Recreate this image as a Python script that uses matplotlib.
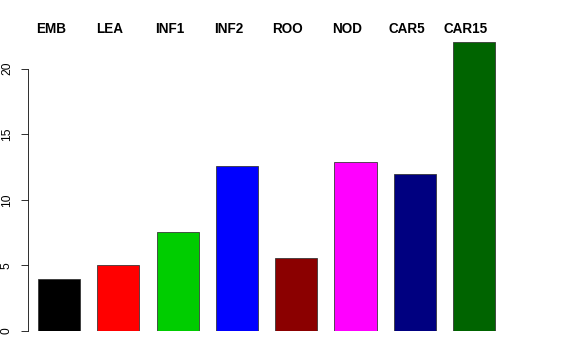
import matplotlib
matplotlib.use("Agg")
import matplotlib.pyplot as plt

groups = ["EMB", "LEA", "INF1", "INF2", "ROO", "NOD", "CAR5", "CAR15"]
values = [4.0, 5.0, 7.55, 12.6, 5.6, 12.9, 11.95, 22.0]
colors = ["black", "red", "#00CD00", "blue", "#8B0000", "magenta", "#000080", "#006400"]
yticks = [0, 5, 10, 15, 20]

plt.rcParams['font.family'] = ['Liberation Sans', 'DejaVu Sans']

fig = plt.figure(figsize=(8, 5), dpi=72)
ax = fig.add_axes([28/576, (360-331)/360, (548-28)/576, 288.6/360])

x = list(range(len(groups)))
ax.bar(x, values, width=0.71, color=colors, edgecolor="#333333", linewidth=0.8)

ax.set_xlim(-0.523, 8.246)
ax.set_ylim(0, 22)

# names sit a little left of the bar centres
for xi, name in zip(x, groups):
    ax.text(xi - 0.14, 23.0, name, ha="center", va="center", fontsize=13.5,
            fontweight="bold", clip_on=False)

ax.set_xticks([])
ax.set_yticks(yticks)
ax.set_yticklabels([str(t) for t in yticks], rotation=90, va="center", fontsize=12)
ax.tick_params(axis="y", length=7, width=0.8, pad=8)
for s in ["top", "right", "bottom"]:
    ax.spines[s].set_visible(False)
ax.spines["left"].set_bounds(0, 20)
ax.spines["left"].set_linewidth(0.8)

fig.savefig("out.png", dpi=72)
